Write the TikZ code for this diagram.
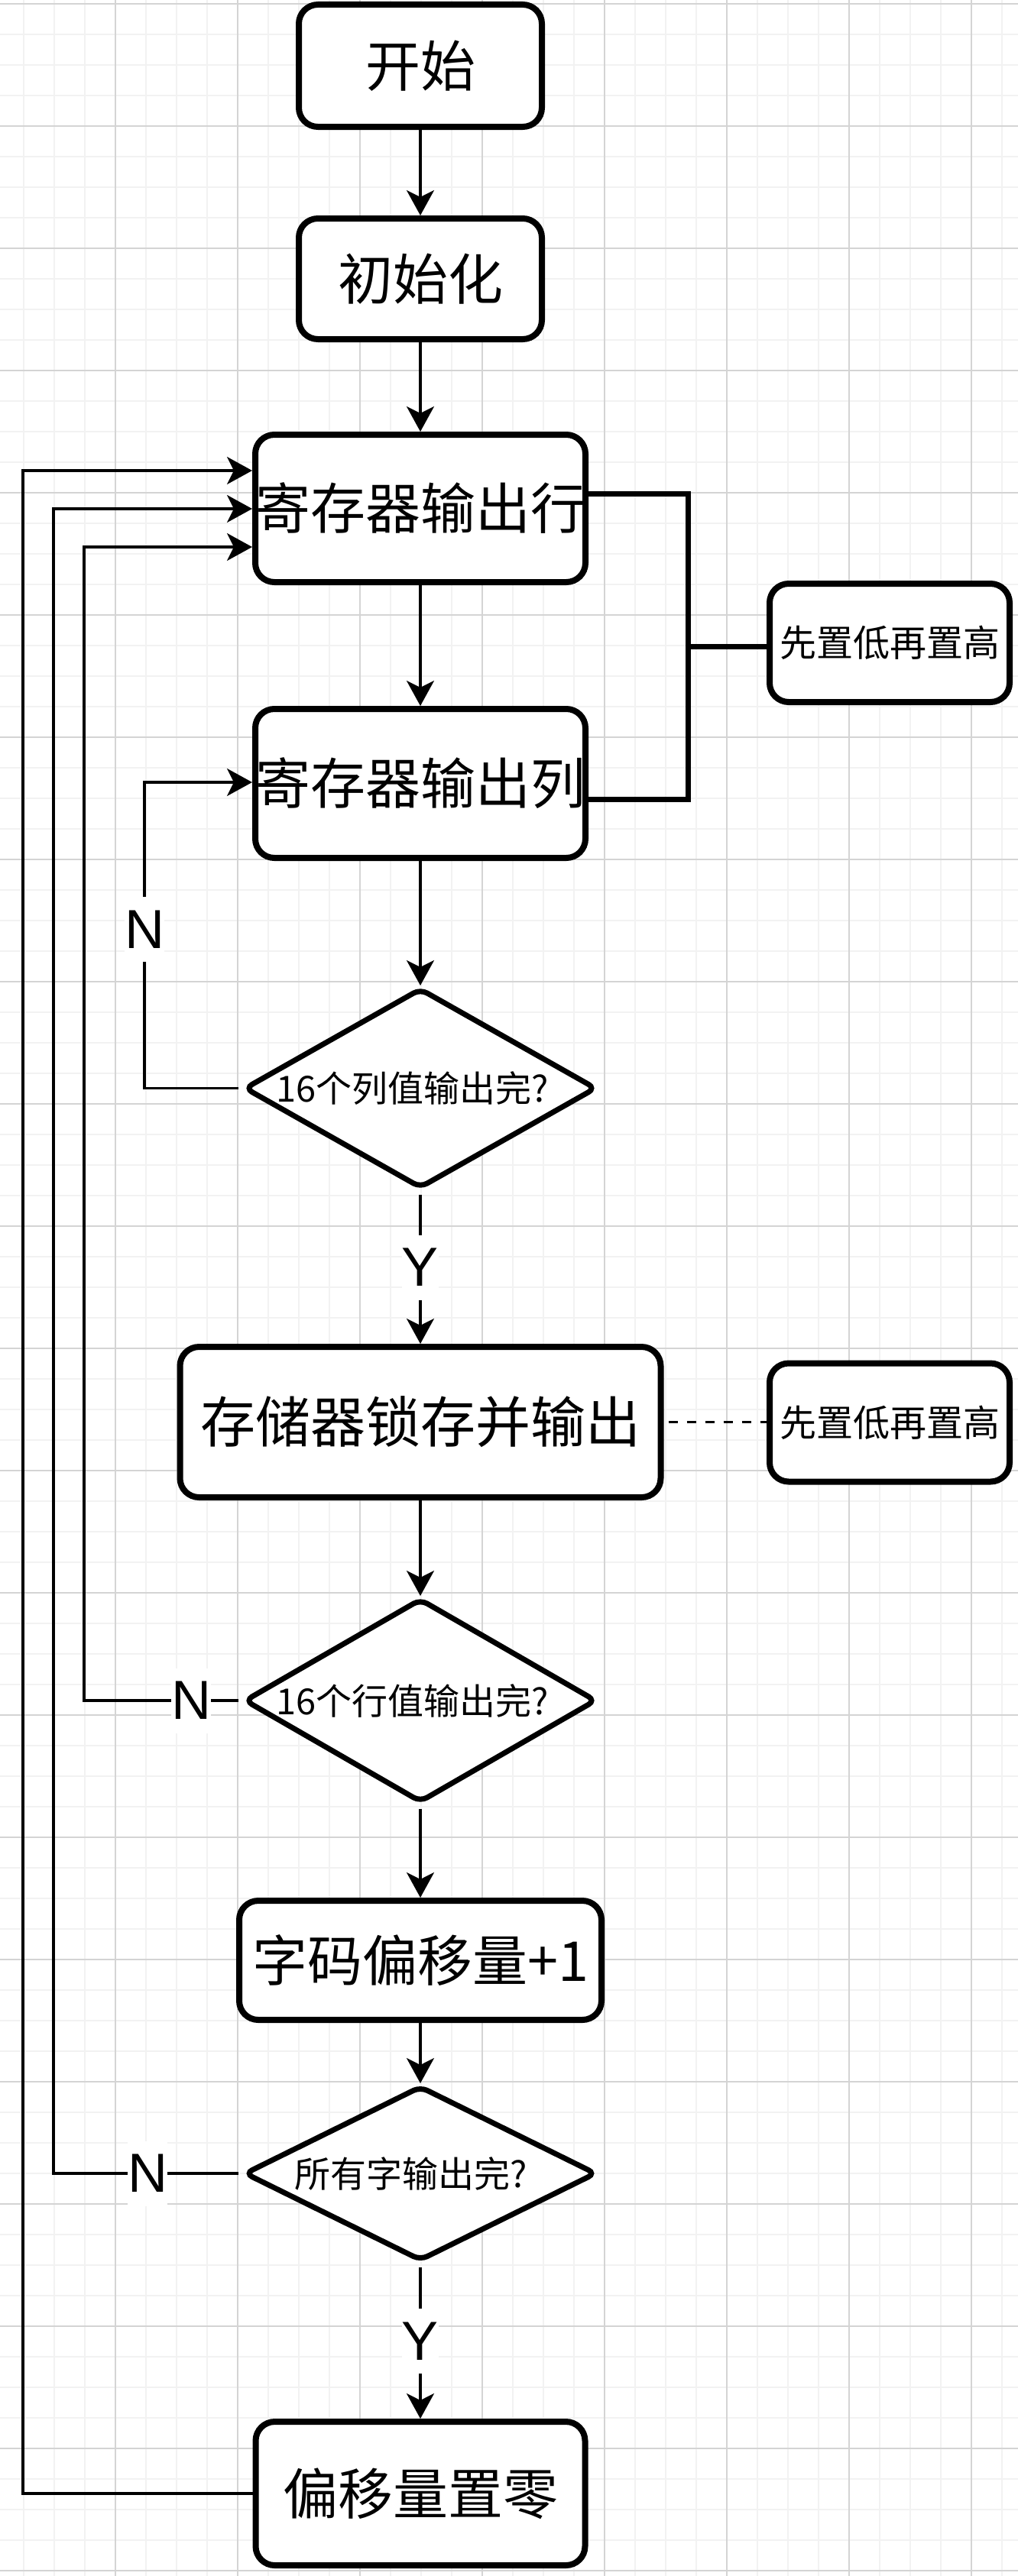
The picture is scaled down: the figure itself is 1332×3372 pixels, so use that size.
\documentclass[tikz,border=0pt]{standalone}
\usepackage{fontspec}
\setmainfont{Liberation Sans}
\newfontfamily\cjk{Noto Sans CJK SC}
\usetikzlibrary{arrows.meta, shapes.geometric}
\tikzset{
  procbox/.style={draw, line width=8pt, rounded corners=25pt, fill=white, inner sep=0pt, font=\cjk\fontsize{72pt}{80pt}\selectfont},
  notebox/.style={draw, line width=8pt, rounded corners=25pt, fill=white, inner sep=0pt, minimum width=314pt, minimum height=155pt, font=\cjk\fontsize{48pt}{56pt}\selectfont},
  decision/.style={diamond, draw, line width=7pt, rounded corners=10pt, fill=white, inner sep=0pt, minimum width=461pt, font=\cjk\fontsize{47pt}{54pt}\selectfont},
  flow/.style={-{Stealth[length=33pt, width=36pt, inset=9pt]}, line width=3.5pt},
  bracket/.style={line width=7pt},
  dashlink/.style={line width=3.5pt, dash pattern=on 12pt off 12pt, dash phase=18pt},
  lbl/.style={fill=white, inner sep=0pt, minimum height=85pt, font=\fontsize{72pt}{80pt}\selectfont},
  minorgrid/.style={line width=2.5pt, black!5},
  majorgrid/.style={line width=1.5pt, black!17}
}
\begin{document}
\begin{tikzpicture}[x=1pt, y=-1pt]
\useasboundingbox (0,0) rectangle (1332,3372);
\fill[white] (0,0) rectangle (1332,3372);
\foreach \gx in {-9,31,...,1351} \draw[minorgrid] (\gx,0) -- (\gx,3372);
\foreach \gy in {5,45,...,3365} \draw[minorgrid] (0,\gy) -- (1332,\gy);
\foreach \gx in {151,311,...,1271} \draw[majorgrid] (\gx,0) -- (\gx,3372);
\foreach \gy in {5,165,...,3365} \draw[majorgrid] (0,\gy) -- (1332,\gy);

\node (start) at (550,86) [procbox, minimum width=318pt, minimum height=160pt] {开始};
\node (init) at (550,365) [procbox, minimum width=318pt, minimum height=158pt] {初始化};
\node (rowout) at (550,665.5) [procbox, minimum width=431pt, minimum height=193pt] {寄存器输出行};
\node (colout) at (550,1025.5) [procbox, minimum width=431pt, minimum height=195pt] {寄存器输出列};
\node (note1) at (1164,841.5) [notebox] {先置低再置高};
\node (d1) at (550,1424.5) [decision, minimum height=262pt] {\makebox[0pt]{16个列值输出完?\hspace{20pt}}};
\node (latch) at (550,1861.5) [procbox, minimum width=629pt, minimum height=197pt] {存储器锁存并输出};
\node (note2) at (1164,1862) [notebox] {先置低再置高};
\node (d2) at (550,2226) [decision, minimum height=267pt] {\makebox[0pt]{16个行值输出完?\hspace{20pt}}};
\node (offinc) at (550,2566) [procbox, minimum width=474pt, minimum height=156pt] {字码偏移量+1};
\node (d3) at (550,2845) [decision, minimum height=229pt] {\makebox[0pt]{所有字输出完?\hspace{24pt}}};
\node (offzero) at (550,3264) [procbox, minimum width=431pt, minimum height=188pt] {偏移量置零};

\coordinate (aTop) at (30,616);
\coordinate (bTop) at (70,666);
\coordinate (cTop) at (110,716);
\coordinate (dTop) at (189,1024);
\coordinate (bktTop) at (900.5,646.5);
\coordinate (bktMid) at (900.5,846.5);
\coordinate (bktBot) at (900.5,1046);

\draw[flow] (start.south) -- (init.north);
\draw[flow] (init.south) -- (rowout.north);
\draw[flow] (rowout.south) -- (colout.north);
\draw[flow] (colout.south) -- (d1.north);
\draw[flow, shorten <=5pt] (d1.south) -- node[lbl]{Y} (latch.north);
\draw[flow] (latch.south) -- (d2.north);
\draw[flow, shorten <=5pt] (d2.south) -- (offinc.north);
\draw[flow] (offinc.south) -- (d3.north);
\draw[flow, shorten <=5pt] (d3.south) -- node[lbl]{Y} (offzero.north);

\draw[flow] (offzero.west) -| (aTop) -- (rowout.west |- aTop);
\draw[flow, shorten <=4pt] (d3.west) -| node[lbl, pos=0.25]{N} (bTop) -- (rowout.west |- bTop);
\draw[flow, shorten <=4pt] (d2.west) -| node[lbl, pos=0.16]{N} (cTop) -- (rowout.west |- cTop);
\draw[flow, shorten <=4pt] (d1.west) -| node[lbl, pos=0.76]{N} (dTop) -- (colout.west |- dTop);

\draw[bracket] (rowout.east |- bktTop) -- (bktTop) -- (bktBot) -- (colout.east |- bktBot);
\draw[bracket] (bktMid) -- (note1.west |- bktMid);
\draw[dashlink] (latch.east) -- (note2.west |- latch.east);
\end{tikzpicture}
\end{document}
